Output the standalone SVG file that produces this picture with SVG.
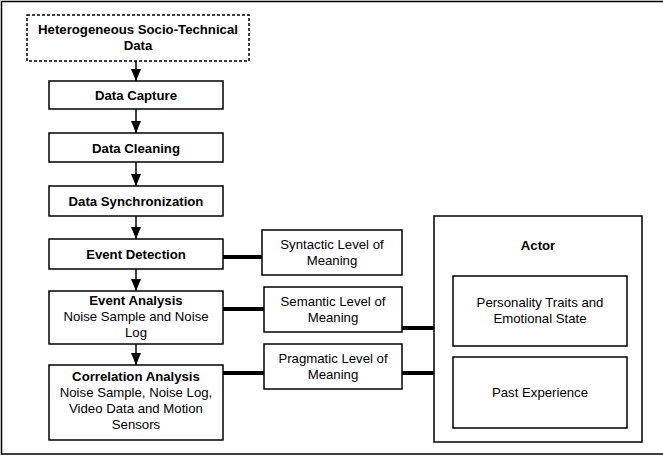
<svg xmlns="http://www.w3.org/2000/svg" width="663" height="456" viewBox="0 0 663 456">
<defs>
<style>
.box{fill:#fff;stroke:#000;stroke-width:1.5}
.dash{fill:#fff;stroke:#000;stroke-width:1.5;stroke-dasharray:3 2}
.t{font-family:"Liberation Sans",Arial,sans-serif;font-size:13.2px;text-anchor:middle;fill:#000}
.b{font-weight:bold}
.arr{stroke:#000;stroke-width:1.5;fill:none;marker-end:url(#ah)}
.thick{stroke:#000;stroke-width:4;fill:none}
</style>
<marker id="ah" markerWidth="12" markerHeight="10" refX="12" refY="5" orient="auto" markerUnits="userSpaceOnUse">
<path d="M0,0 L12,5 L0,10 Z" fill="#000"/>
</marker>
</defs>
<rect x="1.5" y="1.5" width="670" height="452.5" fill="#fff" stroke="#000" stroke-width="1.5"/>
<g id="connectors">
<line class="arr" x1="136" y1="61" x2="136" y2="81"/>
<line class="arr" x1="136" y1="109" x2="136" y2="133"/>
<line class="arr" x1="136" y1="162" x2="136" y2="186"/>
<line class="arr" x1="136" y1="216" x2="136" y2="239"/>
<line class="arr" x1="136" y1="269" x2="136" y2="291"/>
<line class="arr" x1="136" y1="344" x2="136" y2="365"/>
<line class="thick" x1="223" y1="257" x2="262" y2="257"/>
<line class="thick" x1="223" y1="309" x2="264" y2="309"/>
<line class="thick" x1="223" y1="373" x2="264" y2="373"/>
<line class="thick" x1="402" y1="328" x2="455" y2="328"/>
<line class="thick" x1="402" y1="373" x2="434" y2="373"/>
</g>
<g id="n-hetero">
<rect class="dash" x="27" y="15" width="222" height="46"/>
<text class="t b" x="138" y="34">Heterogeneous Socio-Technical</text>
<text class="t b" x="138" y="50">Data</text>
</g>
<g id="n-capture">
<rect class="box" x="49" y="81" width="174" height="28"/>
<text class="t b" x="136" y="99.5">Data Capture</text>
</g>
<g id="n-cleaning">
<rect class="box" x="49" y="133" width="174" height="29"/>
<text class="t b" x="136" y="152.5">Data Cleaning</text>
</g>
<g id="n-sync">
<rect class="box" x="49" y="186" width="174" height="30"/>
<text class="t b" x="136" y="205.5">Data Synchronization</text>
</g>
<g id="n-detect">
<rect class="box" x="49" y="239" width="174" height="30"/>
<text class="t b" x="136" y="258.5">Event Detection</text>
</g>
<g id="n-analysis">
<rect class="box" x="49" y="291" width="174" height="53"/>
<text class="t b" x="136" y="305">Event Analysis</text>
<text class="t" x="136" y="321">Noise Sample and Noise</text>
<text class="t" x="136" y="337">Log</text>
</g>
<g id="n-correlation">
<rect class="box" x="49" y="365" width="174" height="75"/>
<text class="t b" x="136" y="381">Correlation Analysis</text>
<text class="t" x="136" y="397">Noise Sample, Noise Log,</text>
<text class="t" x="136" y="413">Video Data and Motion</text>
<text class="t" x="136" y="429">Sensors</text>
</g>
<g id="n-syntactic">
<rect class="box" x="262" y="230" width="140" height="45"/>
<text class="t" x="332" y="249">Syntactic Level of</text>
<text class="t" x="332" y="265">Meaning</text>
</g>
<g id="n-semantic">
<rect class="box" x="264" y="287" width="138" height="45"/>
<text class="t" x="333" y="306">Semantic Level of</text>
<text class="t" x="333" y="322">Meaning</text>
</g>
<g id="n-pragmatic">
<rect class="box" x="264" y="344" width="138" height="45"/>
<text class="t" x="333" y="363">Pragmatic Level of</text>
<text class="t" x="333" y="379">Meaning</text>
</g>
<g id="n-actor">
<rect class="box" x="434" y="216" width="208" height="226"/>
<text class="t b" x="538" y="250">Actor</text>
</g>
<g id="n-personality">
<rect class="box" x="453" y="276" width="174" height="70"/>
<text class="t" x="540" y="307">Personality Traits and</text>
<text class="t" x="540" y="323">Emotional State</text>
</g>
<g id="n-past">
<rect class="box" x="453" y="357" width="174" height="71"/>
<text class="t" x="540" y="397">Past Experience</text>
</g>
</svg>
